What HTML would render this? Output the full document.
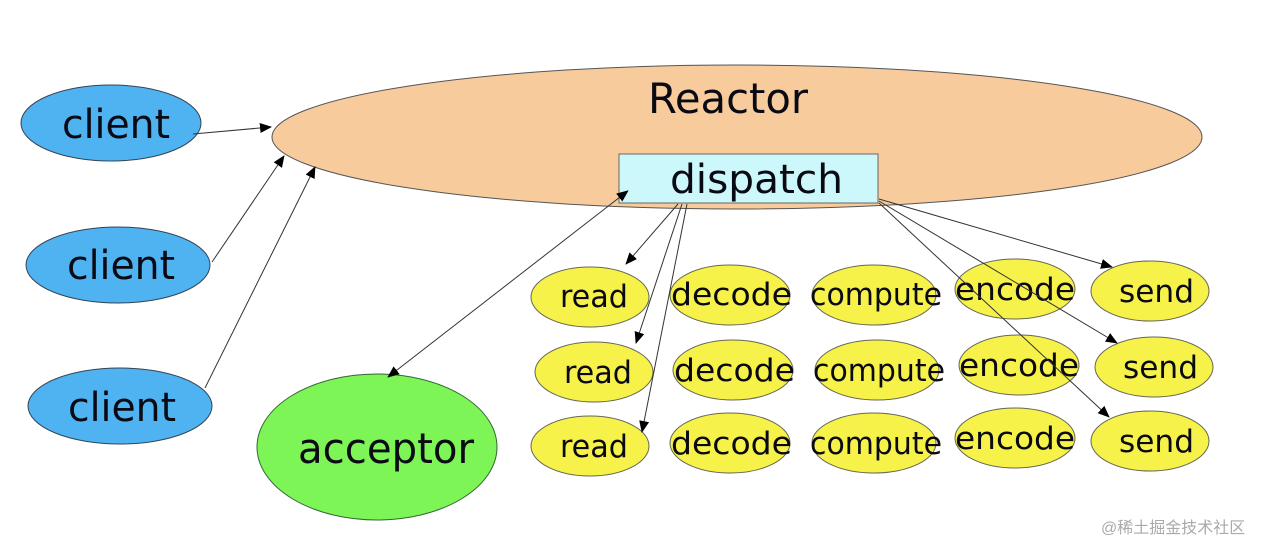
<!DOCTYPE html>
<html><head><meta charset="utf-8"><style>
html,body{margin:0;padding:0;background:#fff;}
svg{display:block;}
text{font-family:"DejaVu Sans Condensed","DejaVu Sans","Liberation Sans",sans-serif;fill:#0a0a14;}
</style></head><body>
<svg width="1280" height="557" viewBox="0 0 1280 557" xmlns="http://www.w3.org/2000/svg">
<defs>
<marker id="a" markerWidth="12" markerHeight="10" refX="11" refY="5" orient="auto" markerUnits="userSpaceOnUse">
<path d="M0,0 L12,5 L0,10 z" fill="#000"/></marker>
<marker id="s" markerWidth="12" markerHeight="10" refX="1" refY="5" orient="auto-start-reverse" markerUnits="userSpaceOnUse">
<path d="M0,0 L12,5 L0,10 z" fill="#000"/></marker>
</defs>
<rect width="1280" height="557" fill="#fff"/>
<ellipse cx="737" cy="137" rx="465" ry="72" fill="#f7cb9c" stroke="#555" stroke-width="1"/>
<text x="648" y="113" font-size="42" textLength="160" lengthAdjust="spacingAndGlyphs">Reactor</text>
<rect x="619" y="154" width="259" height="49" fill="#ccf8fb" stroke="#666" stroke-width="1"/>
<text x="670" y="193" font-size="40" textLength="173" lengthAdjust="spacingAndGlyphs">dispatch</text>

<ellipse cx="111" cy="123" rx="90" ry="38" fill="#4fb3f2" stroke="#345" stroke-width="1"/>
<text x="62" y="138" font-size="40" textLength="108" lengthAdjust="spacingAndGlyphs">client</text>
<ellipse cx="118" cy="265" rx="92" ry="38" fill="#4fb3f2" stroke="#345" stroke-width="1"/>
<text x="67" y="279" font-size="40" textLength="108" lengthAdjust="spacingAndGlyphs">client</text>
<ellipse cx="120" cy="406" rx="92" ry="38" fill="#4fb3f2" stroke="#345" stroke-width="1"/>
<text x="68" y="421" font-size="40" textLength="108" lengthAdjust="spacingAndGlyphs">client</text>

<ellipse cx="377" cy="447" rx="120" ry="73" fill="#7df556" stroke="#363" stroke-width="1"/>
<text x="298" y="463" font-size="42" textLength="176" lengthAdjust="spacingAndGlyphs">acceptor</text>

<g fill="#f7f24a" stroke="#665" stroke-width="1">
<ellipse cx="590" cy="297" rx="59" ry="30"/><ellipse cx="730" cy="295" rx="60" ry="30"/><ellipse cx="874" cy="295" rx="62" ry="30"/><ellipse cx="1015" cy="289" rx="60" ry="30"/><ellipse cx="1150" cy="291" rx="59" ry="30"/>
<ellipse cx="594" cy="372" rx="59" ry="30"/><ellipse cx="733" cy="370" rx="60" ry="30"/><ellipse cx="877" cy="370" rx="62" ry="30"/><ellipse cx="1019" cy="365" rx="60" ry="30"/><ellipse cx="1154" cy="367" rx="59" ry="30"/>
<ellipse cx="590" cy="446" rx="59" ry="30"/><ellipse cx="730" cy="443" rx="60" ry="30"/><ellipse cx="874" cy="443" rx="62" ry="30"/><ellipse cx="1015" cy="438" rx="60" ry="30"/><ellipse cx="1150" cy="441" rx="59" ry="30"/>
</g>
<g font-size="31">
<text x="560" y="307" textLength="68" lengthAdjust="spacingAndGlyphs">read</text>
<text x="671" y="305" textLength="121" lengthAdjust="spacingAndGlyphs">decode</text>
<text x="810" y="305" textLength="132" lengthAdjust="spacingAndGlyphs">compute</text>
<text x="955" y="300" textLength="120" lengthAdjust="spacingAndGlyphs">encode</text>
<text x="1119" y="302" textLength="75" lengthAdjust="spacingAndGlyphs">send</text>
<text x="564" y="383" textLength="68" lengthAdjust="spacingAndGlyphs">read</text>
<text x="674" y="381" textLength="121" lengthAdjust="spacingAndGlyphs">decode</text>
<text x="813" y="381" textLength="132" lengthAdjust="spacingAndGlyphs">compute</text>
<text x="959" y="376" textLength="120" lengthAdjust="spacingAndGlyphs">encode</text>
<text x="1123" y="378" textLength="75" lengthAdjust="spacingAndGlyphs">send</text>
<text x="560" y="457" textLength="68" lengthAdjust="spacingAndGlyphs">read</text>
<text x="671" y="454" textLength="121" lengthAdjust="spacingAndGlyphs">decode</text>
<text x="810" y="454" textLength="132" lengthAdjust="spacingAndGlyphs">compute</text>
<text x="955" y="449" textLength="120" lengthAdjust="spacingAndGlyphs">encode</text>
<text x="1119" y="452" textLength="75" lengthAdjust="spacingAndGlyphs">send</text>
</g>

<g stroke="#333" stroke-width="1" fill="none">
<line x1="193" y1="134" x2="271" y2="127" marker-end="url(#a)"/>
<line x1="212" y1="262" x2="284" y2="156" marker-end="url(#a)"/>
<line x1="205" y1="388" x2="315" y2="167" marker-end="url(#a)"/>
<line x1="620" y1="197" x2="388" y2="377" marker-start="url(#s)" marker-end="url(#a)"/>
<line x1="678" y1="204" x2="626" y2="264" marker-end="url(#a)"/>
<line x1="682" y1="204" x2="636" y2="343" marker-end="url(#a)"/>
<line x1="687" y1="204" x2="642" y2="432" marker-end="url(#a)"/>
<line x1="879" y1="199" x2="1112" y2="267" marker-end="url(#a)"/>
<line x1="879" y1="201" x2="1117" y2="343" marker-end="url(#a)"/>
<line x1="879" y1="203" x2="1109" y2="417" marker-end="url(#a)"/>
</g>
<text x="1101" y="533" font-size="16" style="fill:#aaa;font-family:'Liberation Sans','Noto Sans CJK SC',sans-serif">@稀土掘金技术社区</text>
</svg>
</body></html>
